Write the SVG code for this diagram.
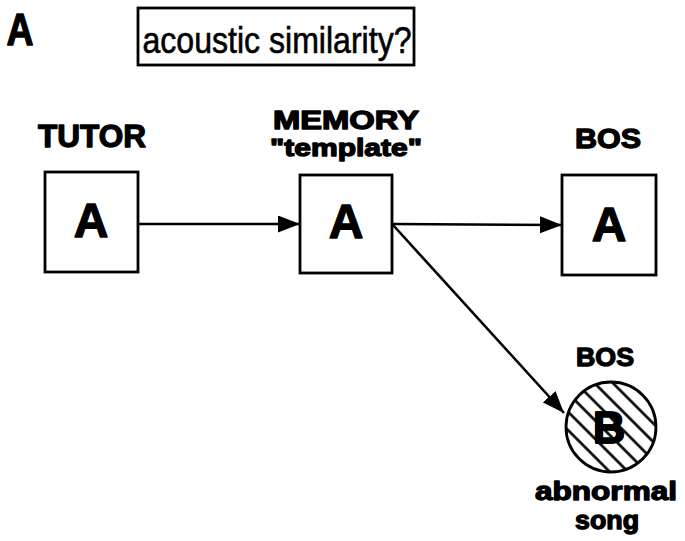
<svg xmlns="http://www.w3.org/2000/svg" width="685" height="541" viewBox="0 0 685 541">
<style>
.bx{fill:#fff;stroke:#000;stroke-width:2.8}
.lb{font-family:"Liberation Sans",Arial,sans-serif;font-weight:bold;fill:#000;text-anchor:middle;stroke:#000;stroke-width:1.3;stroke-linejoin:round}
.ttl{font-family:"Liberation Sans",Arial,sans-serif;fill:#000;text-anchor:middle;stroke:#000;stroke-width:0.6}
.cn{fill:none;stroke:#000;stroke-width:2.6}
</style>
<defs>
<marker id="ah" markerUnits="userSpaceOnUse" markerWidth="24" markerHeight="18" refX="22" refY="8.5" orient="auto">
<path d="M0,0 L22,8.5 L0,17 Z" fill="#000"/>
</marker>
<pattern id="hatch" patternUnits="userSpaceOnUse" width="13" height="13" patternTransform="rotate(45)">
<rect width="13" height="13" fill="#fff"/>
<line x1="0" y1="6.5" x2="13" y2="6.5" stroke="#000" stroke-width="2.6"/>
</pattern>
</defs>
<rect width="685" height="541" fill="#fff"/>
<text class="lb" x="20" y="45" font-size="45" textLength="27" lengthAdjust="spacingAndGlyphs">A</text>
<g id="title">
<rect class="bx" x="138" y="8" width="276" height="57"/>
<text class="ttl" x="277" y="53" font-size="36" textLength="269" lengthAdjust="spacingAndGlyphs">acoustic similarity?</text>
</g>
<g id="connectors">
<line class="cn" x1="139" y1="224" x2="300" y2="224" marker-end="url(#ah)"/>
<line class="cn" x1="393" y1="224" x2="562" y2="225" marker-end="url(#ah)"/>
<line class="cn" x1="393" y1="225" x2="564" y2="413" marker-end="url(#ah)"/>
</g>
<g id="tutor">
<text class="lb" x="92" y="147" font-size="31" textLength="108" lengthAdjust="spacingAndGlyphs">TUTOR</text>
<rect class="bx" x="45" y="172" width="93" height="100"/>
<text class="lb" x="91" y="237" font-size="48">A</text>
</g>
<g id="memory">
<text class="lb" x="346" y="129" font-size="25" textLength="146" lengthAdjust="spacingAndGlyphs">MEMORY</text>
<text class="lb" x="346" y="156" font-size="24" textLength="152" lengthAdjust="spacingAndGlyphs">"template"</text>
<rect class="bx" x="300" y="175" width="92" height="98"/>
<text class="lb" x="346" y="238" font-size="48">A</text>
</g>
<g id="bos1">
<text class="lb" x="608" y="148" font-size="28" textLength="66" lengthAdjust="spacingAndGlyphs">BOS</text>
<rect class="bx" x="562" y="175" width="94" height="100"/>
<text class="lb" x="609" y="241" font-size="48">A</text>
</g>
<g id="bos2">
<text class="lb" x="605" y="366" font-size="26" textLength="58" lengthAdjust="spacingAndGlyphs">BOS</text>
<circle cx="611" cy="427" r="45" fill="url(#hatch)" stroke="#000" stroke-width="2.8"/>
<text class="lb" x="609" y="443" font-size="45" stroke="#fff" stroke-width="7">B</text>
<text class="lb" x="609" y="443" font-size="45">B</text>
<text class="lb" x="606" y="500" font-size="26" textLength="142" lengthAdjust="spacingAndGlyphs">abnormal</text>
<text class="lb" x="607" y="529" font-size="25" textLength="64" lengthAdjust="spacingAndGlyphs">song</text>
</g>
</svg>
